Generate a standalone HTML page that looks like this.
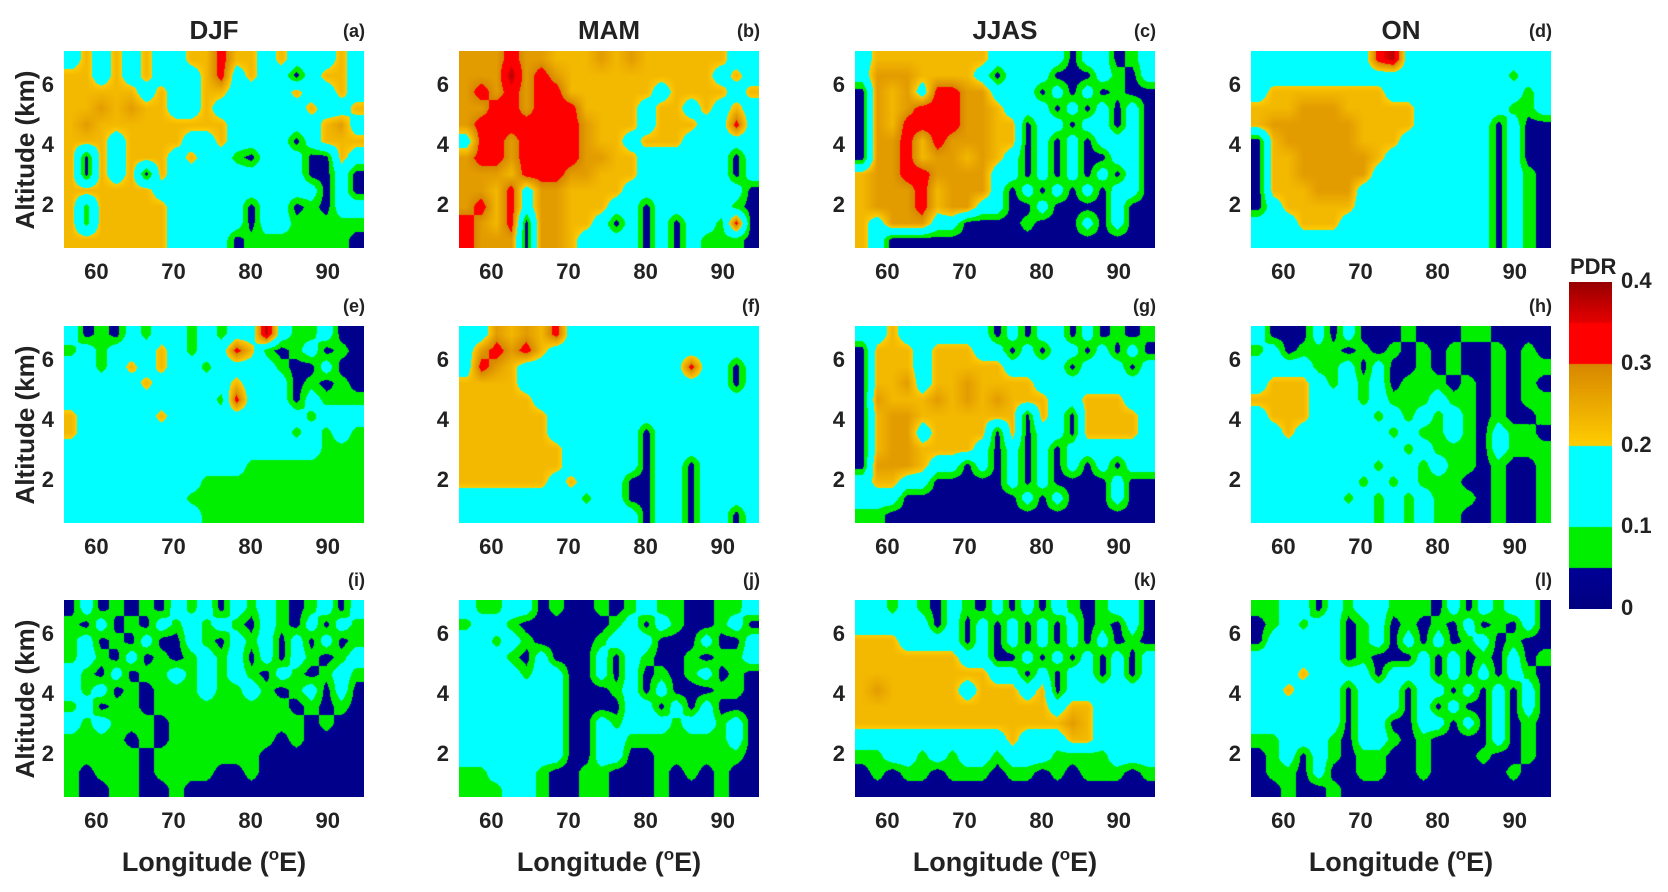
<!DOCTYPE html>
<html><head><meta charset="utf-8">
<style>
html,body{margin:0;padding:0;background:#fff;}
#root{position:relative;width:1668px;height:892px;overflow:hidden;font-family:"Liberation Sans",Arial,sans-serif;font-weight:bold;color:#222;}
.t{position:absolute;white-space:nowrap;line-height:1;}
canvas{position:absolute;}
</style></head>
<body>
<div id="root"></div>
<script>
// ---- data ----
const panelIds = ["a","b","c","d","e","f","g","h","i","j","k","l"];
const seasons = ["DJF","MAM","JJAS","ON"];
const xTicks = [60,70,80,90];
const yTicks = [2,4,6];
const cbTicks = [0,0.1,0.2,0.3,0.4];
const lonRange = [55.8,94.7];
const altRange = [0.6,7.15];
// level code -> PDR value
const levelValues = [0.025,0.075,0.15,0.23,0.27,0.33,0.38];
// grids: rows from top (7 km) to bottom (0.6 km), 20 longitude columns each; digit = level code
const gridA = ["23232322335332322232","33232322235232202332","33333232233222232232","33434332232222223223","34333333333222222342","33323333223222202333","30323332322102220032","30323032222222220020","33333322222222222020","31333332222202201022","31333332222202211111","33333332222011111110"];
const gridB = ["44454433343433333322","44464543333333333232","45454553333332333323","44554555333323323232","45555555433323332252","25545555433233322222","45545555443322222202","44435554433322222202","44352443333222222220","45352443332202222210","54350443320202022150","54440443222202021110"];
const gridC = ["23333333322222022012","24443333202220002102","04342554422202020100","04345554432220202020","04355554433022022020","04453544433020202220","04453443432020200220","34455444422020202020","34445344420202020220","34445344220020000200","32444220000100020200","32000000000000000000"];
const gridD = ["22222222562222222222","22222222222222222122","23333333322222222212","33344433333222222112","34444443333222220200","03444443332222220200","03344444322222220200","03344444222222220210","03334442222222220210","02333332222222220210","22233322222222220210","22222222222222220210"];
const gridE = ["20102122121226211200","12122232122531012010","22123232212222100200","22222322222322201010","22222222221522202111","32222232222222221222","32222222222222212121","22222222222222222111","22222222222211111111","22222222211111111111","22222222111111111111","22222222211111111111"];
const gridF = ["22434352222222222222","24545322222222222222","25432222222222252202","33332222222222222202","33333222222222222222","33333322222222222222","33333322222202222222","33333332222202222222","33333332222202202222","33333323222002202222","22222222122002202222","22222222222202202202"];
const gridG = ["22322222202022020101","03332333220202202020","03332333332222022202","03342334333322222222","04333434343332233322","03443333333032033332","03442333303022033332","03443333202020222222","04443220202020202022","23322000002020000200","22200000000202000200","11000000000000000000"];
const gridH = ["20002020001000110000","12011101010101001010","22221120200101001011","23332121201110101010","33332221211121101011","23332222121212101001","22322222212112102110","22222222221211102111","22222222122121101001","22222221212111001001","22222212121211101001","22222222121211001001"];
const gridI = ["02010102120212101202","10201021212102102021","12010200210212020201","12102010121202021012","21020112121210210121","21201011121121012020","12011011111111101010","21211101111111110100","11110101111111010000","11111011111110000000","10111011110010000000","10011001000000000000"];
const gridJ = ["21122010010121100112","12210000001202100120","22121000012220002002","22210200020210010112","22221220020201012010","22222220001202000110","22222220000220202000","22222220021222122120","22222220022111111120","22222220022001111110","11222100110001010100","11122100110001000100"];
const gridK = ["22121021020202101220","22222020202020201020","33322220202020202010","33333332200202020202","33333333322020220202","34333332333230222222","33333333333332332222","33333333333333432222","22222222223222332222","11221212212221111222","01011011101101011101","00000000000000000000"];
const gridL = ["11220212211102021220","01212201201010201020","02222201202020120100","22222201000202010201","22232222022202020210","22322202220220202020","22222202220202002020","22222202200220202010","11222102210100002010","01202101100100010010","01102001100100000100","00100100000000000000"];
const grids = [gridA,gridB,gridC,gridD,gridE,gridF,gridG,gridH,gridI,gridJ,gridK,gridL];

// ---- layout ----
const colLeft = [64,459,855,1251], rowTop = [51,326,600], PW = 300, PH = 197;
const root = document.getElementById('root');
function xScale(lon,left){return left + (lon-lonRange[0])/(lonRange[1]-lonRange[0])*PW;}
function yScale(alt,top){return top + (altRange[1]-alt)/(altRange[1]-altRange[0])*PH;}
function lerp(a,b,t){return a+(b-a)*t;}
function cmap(v){
  if(v<0.05){const t=v/0.05;return [0,0,Math.round(lerp(128,150,t))];}
  if(v<0.1) return [0,238,0];
  if(v<0.2) return [0,255,255];
  if(v<0.3){const t=(v-0.2)/0.1;return [Math.round(lerp(255,215,t)),Math.round(lerp(205,135,t)),0];}
  if(v<0.35) return [255,0,0];
  const t=Math.min(1,(v-0.35)/0.05);return [Math.round(lerp(230,150,t)),0,0];
}
function addText(txt,x,y,size,name,align){
  const d=document.createElement('div');
  d.className='t';d.innerHTML=txt;d.style.fontSize=size+'px';
  d.style.top=(y-size*0.9)+'px';
  if(align==='center'){d.style.left=(x-200)+'px';d.style.width='400px';d.style.textAlign='center';}
  else if(align==='right'){d.style.left=(x-200)+'px';d.style.width='200px';d.style.textAlign='right';}
  else d.style.left=x+'px';
  
  
  root.appendChild(d);return d;
}
grids.forEach((g,idx)=>{
  const r=Math.floor(idx/4), c=idx%4, left=colLeft[c], top=rowTop[r];
  const rows=g.length, cols=g[0].length;
  const vals=g.map(s=>s.split('').map(ch=>levelValues[+ch]));
  const cv=document.createElement('canvas');
  cv.width=PW;cv.height=PH;cv.style.left=left+'px';cv.style.top=top+'px';
  
  
  const ctx=cv.getContext('2d');const im=ctx.createImageData(PW,PH);
  for(let py=0;py<PH;py++){
    let gy=(py+0.5)/PH*rows-0.5;gy=Math.max(0,Math.min(rows-1,gy));
    const y0=Math.floor(gy),y1=Math.min(rows-1,y0+1),ty=gy-y0;
    for(let px=0;px<PW;px++){
      let gx=(px+0.5)/PW*cols-0.5;gx=Math.max(0,Math.min(cols-1,gx));
      const x0=Math.floor(gx),x1=Math.min(cols-1,x0+1),tx=gx-x0;
      const v=lerp(lerp(vals[y0][x0],vals[y0][x1],tx),lerp(vals[y1][x0],vals[y1][x1],tx),ty);
      const col=cmap(v),k=(py*PW+px)*4;
      im.data[k]=col[0];im.data[k+1]=col[1];im.data[k+2]=col[2];im.data[k+3]=255;
    }
  }
  ctx.putImageData(im,0,0);root.appendChild(cv);
  addText('('+panelIds[idx]+')',left+PW+1,top-13,18,'panel-label-'+panelIds[idx],'right');
  if(r===0) addText(seasons[c],left+PW/2,top-11,26,'season-title-'+seasons[c].toLowerCase(),'center');
  xTicks.forEach(t=>addText(String(t),xScale(t,left),top+PH+33,22,'x-tick-label','center'));
  yTicks.forEach(t=>addText(String(t),left-10,yScale(t,top)+8,22,'y-tick-label','right'));
  if(c===0){
    const d=addText('Altitude (km)',0,0,26,'y-axis-title','left');
    d.style.left=(25-100)+'px';d.style.top=(top+PH/2-13)+'px';d.style.width='200px';d.style.textAlign='center';
    d.style.transform='rotate(-90deg)';
  }
  if(r===2) addText('Longitude (<sup style="font-size:17px;vertical-align:11px">o</sup>E)',left+PW/2,870,27,'x-axis-title','center');
});
// colorbar
const cbX=1569,cbW=43,cbTop=282,cbBot=609;
const cb=document.createElement('canvas');cb.width=cbW;cb.height=cbBot-cbTop;
cb.style.left=cbX+'px';cb.style.top=cbTop+'px';


const cctx=cb.getContext('2d');
for(let py=0;py<cb.height;py++){const v=0.4*(1-(py+0.5)/cb.height);const c=cmap(v);cctx.fillStyle='rgb('+c+')';cctx.fillRect(0,py,cbW,1);}
root.appendChild(cb);
addText('PDR',1570,276,22,'colorbar-title','left');
cbTicks.forEach(t=>addText(t===0?'0':String(t),1621,cbBot-(t/0.4)*(cbBot-cbTop)+8,22,'colorbar-tick-label','left'));
</script>
</body></html>
